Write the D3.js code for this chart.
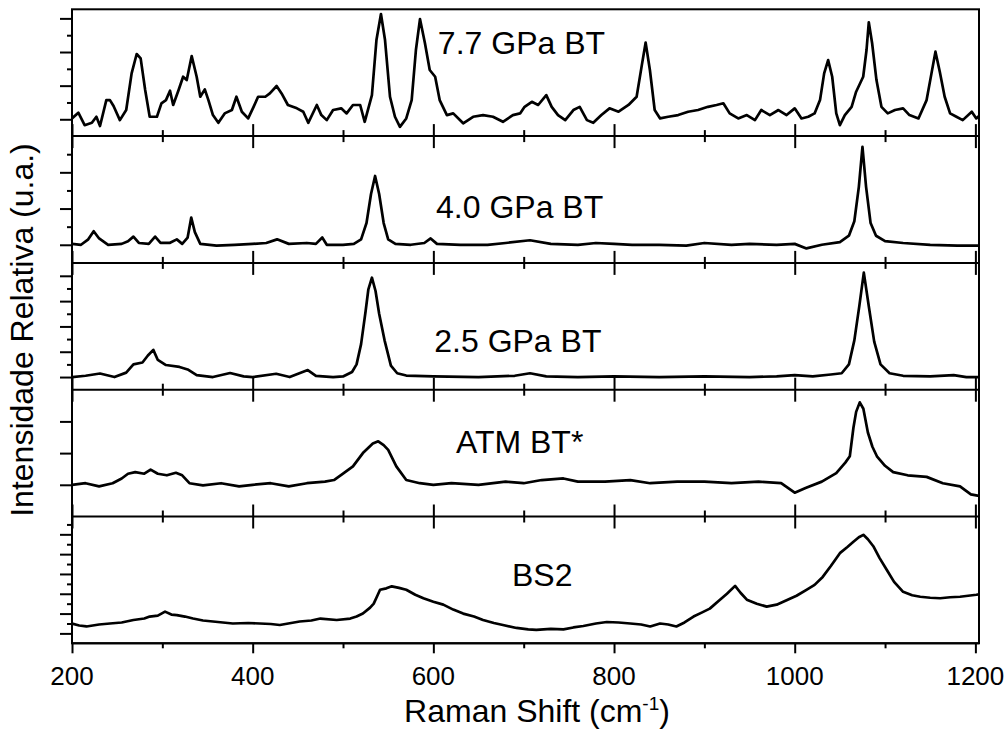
<!DOCTYPE html>
<html><head><meta charset="utf-8">
<script src="https://cdn.jsdelivr.net/npm/d3@7"></script>
<style>
body{margin:0;background:#fff}
text{font-family:Arial,"Liberation Sans",sans-serif;fill:#000}
</style>
</head><body>
<svg id="c" width="1008" height="729"></svg>
<script>
// ---- DATA (Raman shift cm^-1, relative intensity in per-panel tick units) ----
const panelLabels = ["7.7 GPa BT", "4.0 GPa BT", "2.5 GPa BT", "ATM BT*", "BS2"];
const xMajorTicks = [200, 400, 600, 800, 1000, 1200];
const xMinorTicks = [300, 500, 700, 900, 1100];
const xTickLabels = ["200", "400", "600", "800", "1000", "1200"];

const spec77 = [[200,1.05],[207,1.39],[214,0.65],[222,0.79],[227,1.15],[231,0.6],[238,2.14],[242,2.14],[246,1.79],[253,0.95],[260,1.55],[266,3.73],[271.6,4.88],[276,4.62],[281,2.74],[286,1.15],[294,1.15],[299,1.95],[304,2.14],[308.5,2.7],[312,1.85],[318,2.74],[323,3.53],[327,3.33],[332.5,4.76],[338,3.53],[342,2.34],[347,2.78],[351,2.14],[356,1.25],[362,0.79],[369,1.35],[377,1.55],[382,2.34],[388,1.45],[395,1.05],[401,1.74],[406,2.34],[414,2.34],[419,2.54],[426.5,2.98],[432,2.54],[439,1.85],[449,1.65],[456,1.45],[461.5,0.79],[471,1.85],[476,1.25],[482,0.95],[489,1.55],[498,1.65],[504,1.35],[511,1.85],[519,1.85],[524,0.85],[532,2.44],[537,5.71],[542,7.26],[546.5,5.71],[552,2.34],[557.5,1.15],[563,0.55],[570,1.05],[576,2.14],[580.7,5.12],[585.2,6.96],[590.7,5.52],[596,3.93],[602,3.53],[607,2.14],[615,1.25],[622,1.35],[633,0.76],[644,1.15],[655,1.25],[666,1.15],[677,0.85],[688,1.25],[696,1.35],[701,1.74],[709,2.04],[716,1.85],[725,2.44],[731,1.74],[738,1.25],[746,0.95],[755,1.55],[762,1.74],[770,0.95],[777,0.79],[786,1.25],[795,1.65],[805,1.45],[816,1.85],[825,2.34],[830.5,4.13],[835,5.56],[839.7,3.93],[845,1.55],[851,1.05],[860,1.15],[871,1.25],[882,1.45],[893,1.55],[904,1.74],[913.5,1.85],[921,1.95],[928,1.35],[937.5,1.05],[947,1.25],[956,0.95],[963,1.55],[972.5,1.25],[982,1.55],[991,1.25],[1000,1.65],[1007.5,1.05],[1015,1.15],[1022,1.35],[1028,2.14],[1032.6,3.73],[1037,4.52],[1041.5,3.53],[1046,1.35],[1050,0.65],[1055.5,1.25],[1063,1.74],[1068,2.64],[1075.8,3.53],[1079.5,5.12],[1082,6.77],[1085.7,5.52],[1090.5,3.33],[1096,1.74],[1103,1.35],[1111,1.55],[1120,1.65],[1127,1.25],[1137,1.05],[1146,2.14],[1151.4,3.73],[1155.8,5.02],[1160.6,3.83],[1166,2.34],[1172,1.35],[1179,1.15],[1186,0.95],[1196,1.45],[1201,1.05],[1204,1.2]];

const spec40 = [[200,1.05],[210,1.0],[218,1.3],[224,1.75],[230,1.35],[240,1.0],[255,1.05],[262,1.2],[268,1.45],[274,1.1],[285,1.05],[292,1.45],[298,1.1],[308,1.1],[316,1.3],[322,1.05],[328,1.4],[332,2.5],[336,1.7],[342,1.05],[360,0.95],[380,1.0],[400,1.05],[415,1.1],[427,1.3],[440,1.05],[460,1.1],[470,1.05],[477,1.4],[482,1.0],[500,1.0],[512,1.05],[520,1.3],[526,2.2],[531,3.8],[535.5,4.8],[540,3.8],[545,2.2],[550,1.3],[558,1.05],[575,1.0],[590,1.1],[597,1.35],[604,1.05],[630,1.0],[660,1.0],[680,1.1],[707,1.25],[730,1.05],[760,1.0],[780,1.1],[800,1.05],[820,1.0],[850,1.0],[880,0.95],[900,1.1],[930,1.0],[950,1.05],[980,1.0],[1000,1.05],[1013,0.8],[1030,1.0],[1050,1.15],[1060,1.5],[1066,2.3],[1071,4.2],[1075,6.4],[1079,4.2],[1084,2.2],[1090,1.5],[1100,1.2],[1120,1.1],[1150,1.0],[1180,0.95],[1204,0.95]];

const spec25 = [[200,1.0],[215,1.1],[231,1.28],[247,1.0],[260,1.35],[268,2.0],[278,2.15],[284,2.7],[290,3.15],[295,2.35],[304,1.95],[319,1.8],[328,1.6],[338,1.15],[356,1.0],[375,1.32],[390,1.05],[400,1.0],[426,1.26],[441,1.0],[461,1.55],[470,1.1],[489,1.0],[500,1.05],[510,1.4],[515,2.0],[520,3.6],[525,6.2],[528,7.9],[532,8.85],[536,7.8],[540,6.0],[546,3.9],[553,1.9],[560,1.3],[570,1.12],[600,1.05],[650,1.0],[690,1.1],[707,1.3],[725,1.05],[760,1.0],[800,1.05],[850,1.0],[900,1.05],[950,1.0],[980,1.05],[1000,1.15],[1020,1.05],[1040,1.2],[1052,1.3],[1060,2.0],[1066,3.9],[1071.5,6.6],[1076.5,9.25],[1082,6.6],[1088,3.8],[1095,2.0],[1105,1.3],[1120,1.1],[1150,1.05],[1176,1.15],[1190,1.0],[1204,1.0]];

const specATM = [[200,1.0],[215,1.05],[230,0.95],[245,1.05],[255,1.2],[262,1.35],[270,1.4],[280,1.35],[287,1.48],[295,1.35],[305,1.3],[315,1.38],[322,1.3],[330,1.05],[345,0.98],[365,1.05],[385,0.95],[400,1.0],[420,1.05],[440,0.95],[460,1.05],[480,1.1],[490,1.15],[500,1.35],[511,1.58],[522,2.0],[533,2.3],[539,2.37],[545,2.25],[550,2.1],[559,1.58],[570,1.15],[585,1.05],[600,1.0],[620,1.05],[650,1.0],[680,1.1],[700,1.05],[720,1.15],[744,1.2],[760,1.1],[790,1.1],[818,1.15],[840,1.05],[870,1.1],[900,1.1],[930,1.05],[960,1.1],[985,1.05],[1000,0.75],[1012,0.9],[1030,1.1],[1046,1.37],[1056,1.7],[1061,1.9],[1065,2.8],[1068,3.3],[1072,3.6],[1076,3.4],[1081,2.65],[1086,2.2],[1091,1.9],[1100,1.6],[1109,1.4],[1125,1.3],[1146,1.25],[1164,1.05],[1183,0.95],[1195,0.7],[1204,0.65]];

const specBS2 = [[200,2.0],[208,1.8],[216,1.7],[230,1.9],[242,2.0],[255,2.1],[268,2.35],[280,2.5],[286,2.7],[295,2.8],[303,3.2],[310,2.9],[316,2.85],[325,2.7],[334,2.5],[345,2.3],[356,2.2],[378,2.0],[395,2.05],[408,2.0],[420,1.95],[430,1.85],[452,2.2],[465,2.3],[475,2.5],[493,2.35],[508,2.5],[515,2.7],[522,3.0],[530,3.6],[534,4.0],[538,4.8],[541,5.4],[548,5.55],[554,5.75],[562,5.6],[570,5.4],[580,4.9],[589,4.55],[600,4.2],[611,3.9],[622,3.4],[633,3.0],[645,2.7],[655,2.35],[667,2.05],[677,1.85],[692,1.55],[705,1.4],[714,1.35],[730,1.45],[744,1.4],[755,1.6],[766,1.75],[780,2.0],[792,2.15],[805,2.1],[818,2.0],[830,1.9],[840,1.7],[851,2.0],[860,1.9],[869,1.7],[878,2.1],[888,2.7],[897,3.1],[906,3.5],[916,4.3],[925,5.0],[934,5.8],[940,5.1],[947,4.4],[958,4.0],[969,3.7],[980,3.9],[991,4.35],[1002,4.8],[1013,5.4],[1022,5.9],[1031,6.7],[1040,7.8],[1050,9.1],[1058,9.7],[1065,10.25],[1071,10.7],[1076,10.95],[1081,10.5],[1087,9.8],[1094,8.6],[1102,7.4],[1110,6.2],[1120,5.2],[1130,4.85],[1139,4.7],[1150,4.6],[1161,4.55],[1172,4.65],[1183,4.7],[1192,4.8],[1201,4.9],[1204,4.95]];

const seriesList = [spec77, spec40, spec25, specATM, specBS2];
const yMaxes = [7.54, 7.0, 10.02, 4.0, 12.8];
const yTickCounts = [7, 6, 9, 3, 12];

// ---- LAYOUT ----
const L = 72, R = 979, T = 9.3, B = 643.3;
const ph = (B - T) / 5;
const labelPos = [{x:605,y:4.9},{x:603,y:2.5},{x:601,y:3.0},{x:625,y:2.0},{x:687,y:5.75}];
const svg = d3.select("#c");
const x = d3.scaleLinear().domain([200, 1204]).range([L, R]);
const line = d3.line().x(d => x(d[0]));

seriesList.forEach((data, i) => {
  const top = T + i * ph, bot = top + ph;
  const y = d3.scaleLinear().domain([0, yMaxes[i]]).range([bot, top]);
  const g = svg.append("g");
  g.append("clipPath").attr("id", "cp" + i).append("rect")
    .attr("x", L).attr("y", top).attr("width", R - L).attr("height", ph);
  g.append("path").datum(data)
    .attr("clip-path", "url(#cp" + i + ")")
    .attr("d", line.y(d => y(d[1])))
    .attr("fill", "none").attr("stroke", "#000").attr("stroke-width", 2.7)
    .attr("stroke-linejoin", "round");

  // y ticks
  const ticks = d3.range(1, yTickCounts[i] + 1);
  const majors = i === 3 ? ticks : ticks.filter(t => t % 2 === 1);
  const minors = i === 3 ? [] : ticks.filter(t => t % 2 === 0);
  [[majors, 12], [minors, 5]].forEach(([tv, sz]) => {
    const ax = g.append("g").attr("transform", `translate(${L},0)`)
      .call(d3.axisLeft(y).tickValues(tv).tickSize(sz).tickFormat(""));
    ax.select(".domain").remove();
    ax.selectAll("line").attr("stroke", "#000").attr("stroke-width", 2);
  });

  // panel bottom x axis
  const isLast = i === 4;
  const mk = (axisFn, tv, sz) => {
    const ax = g.append("g").attr("transform", `translate(0,${bot})`)
      .call(axisFn(x).tickValues(tv).tickSize(sz).tickFormat(""));
    ax.select(".domain").remove();
    ax.selectAll("line").attr("stroke", "#000").attr("stroke-width", 2);
  };
  if (isLast) {
    mk(d3.axisBottom, xMajorTicks, 10);
    mk(d3.axisBottom, xMinorTicks, 5);
  } else {
    mk(d3.axisBottom, xMajorTicks, 12);
    mk(d3.axisBottom, xMinorTicks, 6);
    mk(d3.axisTop, xMajorTicks, 12);
    mk(d3.axisTop, xMinorTicks, 6);
  }
  g.append("line").attr("x1", L).attr("x2", R).attr("y1", bot).attr("y2", bot)
    .attr("stroke", "#000").attr("stroke-width", 2);

  // panel label
  g.append("text").attr("x", x(labelPos[i].x)).attr("y", y(labelPos[i].y))
    .attr("font-size", 32).text(panelLabels[i]);
});

// frame
svg.append("rect").attr("x", L).attr("y", T).attr("width", R - L).attr("height", B - T)
  .attr("fill", "none").attr("stroke", "#000").attr("stroke-width", 2);

// x tick labels
svg.append("g").selectAll("text").data(xMajorTicks).join("text")
  .attr("x", d => x(d)).attr("y", 685).attr("text-anchor", "middle")
  .attr("font-size", 26).text((d, k) => xTickLabels[k]);

// x title
const xt = svg.append("text").attr("x", 537).attr("y", 721.5).attr("text-anchor", "middle")
  .attr("font-size", 32);
xt.append("tspan").text("Raman Shift (cm");
xt.append("tspan").attr("font-size", 19).attr("dy", -12).text("-1");
xt.append("tspan").attr("dy", 12).text(")");

// y title
svg.append("text").attr("transform", "translate(33,330) rotate(-90)")
  .attr("text-anchor", "middle").attr("font-size", 32).text("Intensidade Relativa (u.a.)");
</script>
</body></html>
